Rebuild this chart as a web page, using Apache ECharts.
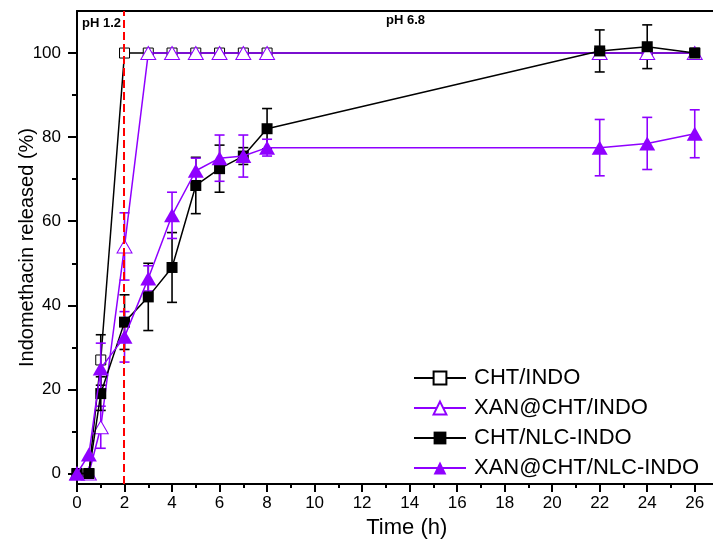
<!DOCTYPE html>
<html>
<head>
<meta charset="utf-8">
<script src="https://cdn.jsdelivr.net/npm/echarts@6/dist/echarts.min.js"></script>
<style>
  html, body { margin: 0; padding: 0; background: #fff; }
  #chart { width: 713px; height: 540px; }
</style>
</head>
<body>
<div id="chart"></div>
<script>
const time = [0, 0.5, 1, 2, 3, 4, 5, 6, 7, 8, 22, 24, 26];
const chtIndo = [0, 0, 27, 100, 100, 100, 100, 100, 100, 100, 100, 100, 100];
const chtIndoErr = [0, 0, 6, 0, 0, 0, 0, 0, 0, 0, 0, 0, 0];
const xanChtIndo = [0, 0, 11, 54, 100, 100, 100, 100, 100, 100, 100, 100, 100];
const xanChtIndoErr = [0, 0, 5, 8, 0, 0, 0, 0, 0, 0, 0, 0, 0];
const chtNlc = [0, 0, 19, 36, 42, 49, 68.5, 72.5, 75.5, 82, 100.5, 101.5, 100];
const chtNlcErr = [0, 0, 4, 6.5, 8, 8.3, 6.7, 5.6, 2, 4.8, 5, 5.2, 0.5];
const xanChtNlc = [0, 4.5, 25, 32.5, 46.4, 61.4, 72, 75, 75.5, 77.5, 77.5, 78.5, 80.8];
const xanChtNlcErr = [0, 0, 6, 6, 3, 5.5, 3, 5.5, 5, 2, 6.7, 6.2, 5.7];
const yMajor = [0, 20, 40, 60, 80, 100];
const yMinor = [10, 30, 50, 70, 90];

const BLACK = '#000000';
const PURPLE = '#8f00ff';
const FONT = 'Liberation Sans, Arial, sans-serif';

function pairs(vals) {
  return time.map((t, i) => [t, vals[i]]);
}

function errorBars(vals, errs, color) {
  return {
    type: 'custom',
    silent: true,
    z: 3,
    data: time.map((t, i) => [t, vals[i], errs[i]]),
    renderItem: (params, api) => {
      const x = api.value(0), y = api.value(1), e = api.value(2);
      if (!e) return null;
      const top = api.coord([x, y + e]);
      const bot = api.coord([x, y - e]);
      const w = 5;
      const style = { stroke: color, lineWidth: 1.6 };
      return {
        type: 'group',
        children: [
          { type: 'line', shape: { x1: top[0], y1: top[1], x2: bot[0], y2: bot[1] }, style },
          { type: 'line', shape: { x1: top[0] - w, y1: top[1], x2: top[0] + w, y2: top[1] }, style },
          { type: 'line', shape: { x1: bot[0] - w, y1: bot[1], x2: bot[0] + w, y2: bot[1] }, style }
        ]
      };
    }
  };
}

const chart = echarts.init(document.getElementById('chart'));
chart.setOption({
  animation: false,
  textStyle: { fontFamily: FONT },
  grid: { left: 77, top: 11, right: -5.5, bottom: 56, outerBoundsMode: 'none', containLabel: false },
  legend: {
    data: ['CHT/INDO', 'XAN@CHT/INDO', 'CHT/NLC-INDO', 'XAN@CHT/NLC-INDO'],
    orient: 'vertical',
    left: 413,
    top: 367,
    padding: 0,
    itemWidth: 52,
    itemHeight: 16,
    itemGap: 8,
    textStyle: { fontSize: 22, color: BLACK, fontFamily: FONT, padding: [0, 0, 0, 3] }
  },
  xAxis: [{
    type: 'value',
    min: 0,
    max: 27,
    interval: 2,
    name: 'Time (h)',
    nameLocation: 'middle',
    nameGap: 31,
    nameTextStyle: { fontSize: 22, color: BLACK, padding: [0, 0, 0, 18] },
    axisLine: { show: true, onZero: false, lineStyle: { color: BLACK, width: 2 } },
    axisTick: { show: true, length: 8, lineStyle: { color: BLACK, width: 2 } },
    minorTick: { show: true, splitNumber: 2, length: 4, lineStyle: { color: BLACK, width: 2 } },
    axisLabel: { fontSize: 17, color: BLACK, margin: 11, showMaxLabel: false },
    splitLine: { show: false }
  }, {
    type: 'value',
    position: 'top',
    min: 0,
    max: 27,
    axisLine: { show: true, onZero: false, lineStyle: { color: BLACK, width: 2 } },
    axisTick: { show: false },
    axisLabel: { show: false },
    splitLine: { show: false }
  }],
  yAxis: [{
    type: 'value',
    min: -2.5,
    max: 110,
    name: 'Indomethacin released (%)',
    nameLocation: 'middle',
    nameGap: 40,
    nameMoveOverlap: false,
    nameTextStyle: { fontSize: 20, color: BLACK },
    axisLine: { show: true, onZero: false, lineStyle: { color: BLACK, width: 2 } },
    axisTick: { show: true, length: 9, customValues: yMajor, lineStyle: { color: BLACK, width: 2 } },
    axisLabel: { fontSize: 17, color: BLACK, margin: 16, customValues: yMajor },
    splitLine: { show: false }
  }, {
    type: 'value',
    position: 'left',
    min: -2.5,
    max: 110,
    axisLine: { show: false, onZero: false },
    axisTick: { show: true, length: 5, customValues: yMinor, lineStyle: { color: BLACK, width: 2 } },
    axisLabel: { show: false },
    splitLine: { show: false }
  }],
  graphic: [
    { type: 'text', left: 82, top: 17, style: { text: 'pH 1.2', font: 'bold 13px ' + FONT, fill: BLACK } },
    { type: 'text', left: 386, top: 14, style: { text: 'pH 6.8', font: 'bold 13px ' + FONT, fill: BLACK } }
  ],
  series: [
    {
      name: 'CHT/INDO',
      type: 'line',
      data: pairs(chtIndo),
      symbol: 'rect',
      symbolSize: 10,
      z: 2,
      lineStyle: { color: BLACK, width: 1.5 },
      itemStyle: { color: '#ffffff', borderColor: BLACK, borderWidth: 1 },
      markLine: {
        silent: true,
        symbol: 'none',
        label: { show: false },
        lineStyle: { color: '#ff0000', type: 'dashed', width: 2 },
        data: [{ xAxis: 1.95 }]
      }
    },
    errorBars(chtIndo, chtIndoErr, BLACK),
    {
      name: 'XAN@CHT/INDO',
      type: 'line',
      data: pairs(xanChtIndo),
      symbol: 'triangle',
      symbolSize: [15, 13],
      z: 4,
      lineStyle: { color: PURPLE, width: 1.5 },
      itemStyle: { color: '#ffffff', borderColor: PURPLE, borderWidth: 1 }
    },
    errorBars(xanChtIndo, xanChtIndoErr, PURPLE),
    {
      name: 'CHT/NLC-INDO',
      type: 'line',
      data: pairs(chtNlc),
      symbol: 'rect',
      symbolSize: 11,
      z: 5,
      lineStyle: { color: BLACK, width: 1.5 },
      itemStyle: { color: BLACK }
    },
    errorBars(chtNlc, chtNlcErr, BLACK),
    {
      name: 'XAN@CHT/NLC-INDO',
      type: 'line',
      data: pairs(xanChtNlc),
      symbol: 'triangle',
      symbolSize: [16, 14],
      z: 6,
      lineStyle: { color: PURPLE, width: 1.5 },
      itemStyle: { color: PURPLE }
    },
    errorBars(xanChtNlc, xanChtNlcErr, PURPLE)
  ]
});
</script>
</body>
</html>
